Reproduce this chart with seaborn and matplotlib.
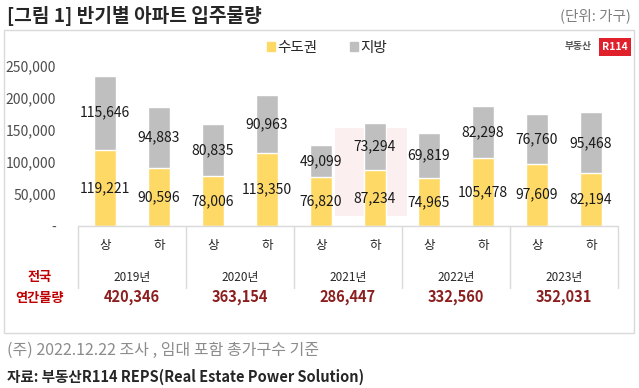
import pandas as pd
import matplotlib.pyplot as plt
import matplotlib.patches as mpatches
import matplotlib.transforms as mtransforms
import seaborn as sns

years = ["2019년", "2020년", "2021년", "2022년", "2023년"]
halves = ["상", "하"]
capital = [119221, 90596, 78006, 113350, 76820, 87234, 74965, 105478, 97609, 82194]
local = [115646, 94883, 80835, 90963, 49099, 73294, 69819, 82298, 76760, 95468]
annual_totals = [420346, 363154, 286447, 332560, 352031]
y_ticks = [0, 50000, 100000, 150000, 200000, 250000]

YELLOW = "#ffd966"
GRAY = "#bfbfbf"
LINE = "#d9d9d9"

sns.set_theme(style="white")
plt.rcParams["font.family"] = ["Noto Sans CJK KR", "DejaVu Sans"]

df = pd.DataFrame({
    "period": [y + h for y in years for h in halves],
    "half": [h for y in years for h in halves],
    "capital": capital,
    "local": local,
})
df["total"] = df["capital"] + df["local"]

W, H = 639, 388
fig = plt.figure(figsize=(W / 100, H / 100), dpi=100)


def px(x, y):
    # pixel position (from top-left) -> figure fraction
    return x / W, 1 - y / H


ax = fig.add_axes([78 / W, 1 - 226 / H, 540 / W, 160 / H])
ax.patch.set_alpha(0)

# stacked bars: total in gray, capital region in yellow on top of it
sns.barplot(data=df, x="period", y="total", color=GRAY, width=0.39,
            saturation=1, errorbar=None, ax=ax)
sns.barplot(data=df, x="period", y="capital", color=YELLOW, width=0.39,
            saturation=1, errorbar=None, ax=ax)

for i, row in df.iterrows():
    ax.text(i, row["capital"] / 2, f"{row['capital']:,}", ha="center",
            va="center", fontsize=10, color="#1a1a1a")
    ax.text(i, row["capital"] + row["local"] / 2, f"{row['local']:,}",
            ha="center", va="center", fontsize=10, color="#1a1a1a")

ax.set_ylim(0, 250000)
ax.set_xlim(-0.5, len(df) - 0.5)
ax.set_yticks(y_ticks)
ax.set_yticklabels(["-"] + [f"{v:,}" for v in y_ticks[1:]])
ax.set_xticks(range(len(df)))
ax.set_xticklabels(df["half"])
ax.tick_params(axis="y", length=0, pad=16, labelsize=10, labelcolor="#4d4d4d")
ax.tick_params(axis="x", length=0, pad=9, labelsize=9, labelcolor="#262626")
ax.set_xlabel("")
ax.set_ylabel("")
for s in ax.spines.values():
    s.set_visible(False)

# table-like category axis below the bars
trans = mtransforms.blended_transform_factory(ax.transData, ax.transAxes)
ax.plot([-0.5, len(df) - 0.5], [0, 0], color=LINE, lw=1, transform=trans,
        clip_on=False)
for k in range(len(years) + 1):
    xs = 2 * k - 0.5
    ax.plot([xs, xs], [0, -0.39], color=LINE, lw=1, transform=trans,
            clip_on=False)
for k, (yr, tot) in enumerate(zip(years, annual_totals)):
    ax.text(2 * k + 0.5, -0.319, yr, transform=trans, ha="center",
            va="center", fontsize=8.5, color="#262626")
    ax.text(2 * k + 0.5, -0.444, f"{tot:,}", transform=trans, ha="center",
            va="center", fontsize=10.5, fontweight="bold", color="#8b1e1e")

fig.text(*px(40, 277), "전국", ha="center", va="center", fontsize=9.5,
         fontweight="bold", color="#c00000")
fig.text(*px(40, 298), "연간물량", ha="center", va="center", fontsize=9.5,
         fontweight="bold", color="#c00000")

# outer frame
fig.patches.append(mpatches.Rectangle(px(4, 333), 630 / W, 303 / H,
                                      transform=fig.transFigure, fill=False,
                                      edgecolor=LINE, lw=1))

# legend
handles = [mpatches.Patch(color=YELLOW, label="수도권"),
           mpatches.Patch(color=GRAY, label="지방")]
fig.legend(handles=handles, loc="center", bbox_to_anchor=px(327, 48), ncol=2,
           frameon=False, fontsize=10.5, handlelength=0.55, handleheight=0.55,
           handletextpad=0.2, columnspacing=2.2)

# logo
fig.text(*px(592, 46), "부동산", ha="right", va="center", fontsize=7,
         fontweight="bold", color="#595959")
fig.text(*px(615, 47), "R114", ha="center", va="center", fontsize=7.5,
         fontweight="bold", color="white",
         bbox=dict(boxstyle="square,pad=0.35", fc="#e0202b", ec="none"))

# faint watermark block, behind the bars
fig.patches.append(mpatches.Rectangle(px(335, 216), 72 / W, 88 / H,
                                      transform=fig.transFigure,
                                      fc="#f2b8bc", ec="none", alpha=0.22,
                                      zorder=-1))

# titles and notes
fig.text(*px(7, 16), "[그림 1] 반기별 아파트 입주물량", ha="left", va="center",
         fontsize=13.8, fontweight="bold", color="#262626")
fig.text(*px(631, 16), "(단위: 가구)", ha="right", va="center", fontsize=10.5,
         color="#7f7f7f")
fig.text(*px(7, 350), "(주) 2022.12.22 조사 , 임대 포함 총가구수 기준",
         ha="left", va="center", fontsize=11.5, color="#8c8c8c")
fig.text(*px(7, 377), "자료: 부동산R114 REPS(Real Estate Power Solution)",
         ha="left", va="center", fontsize=10.5, fontweight="bold",
         color="#262626")

fig.savefig("out.png", dpi=100)
